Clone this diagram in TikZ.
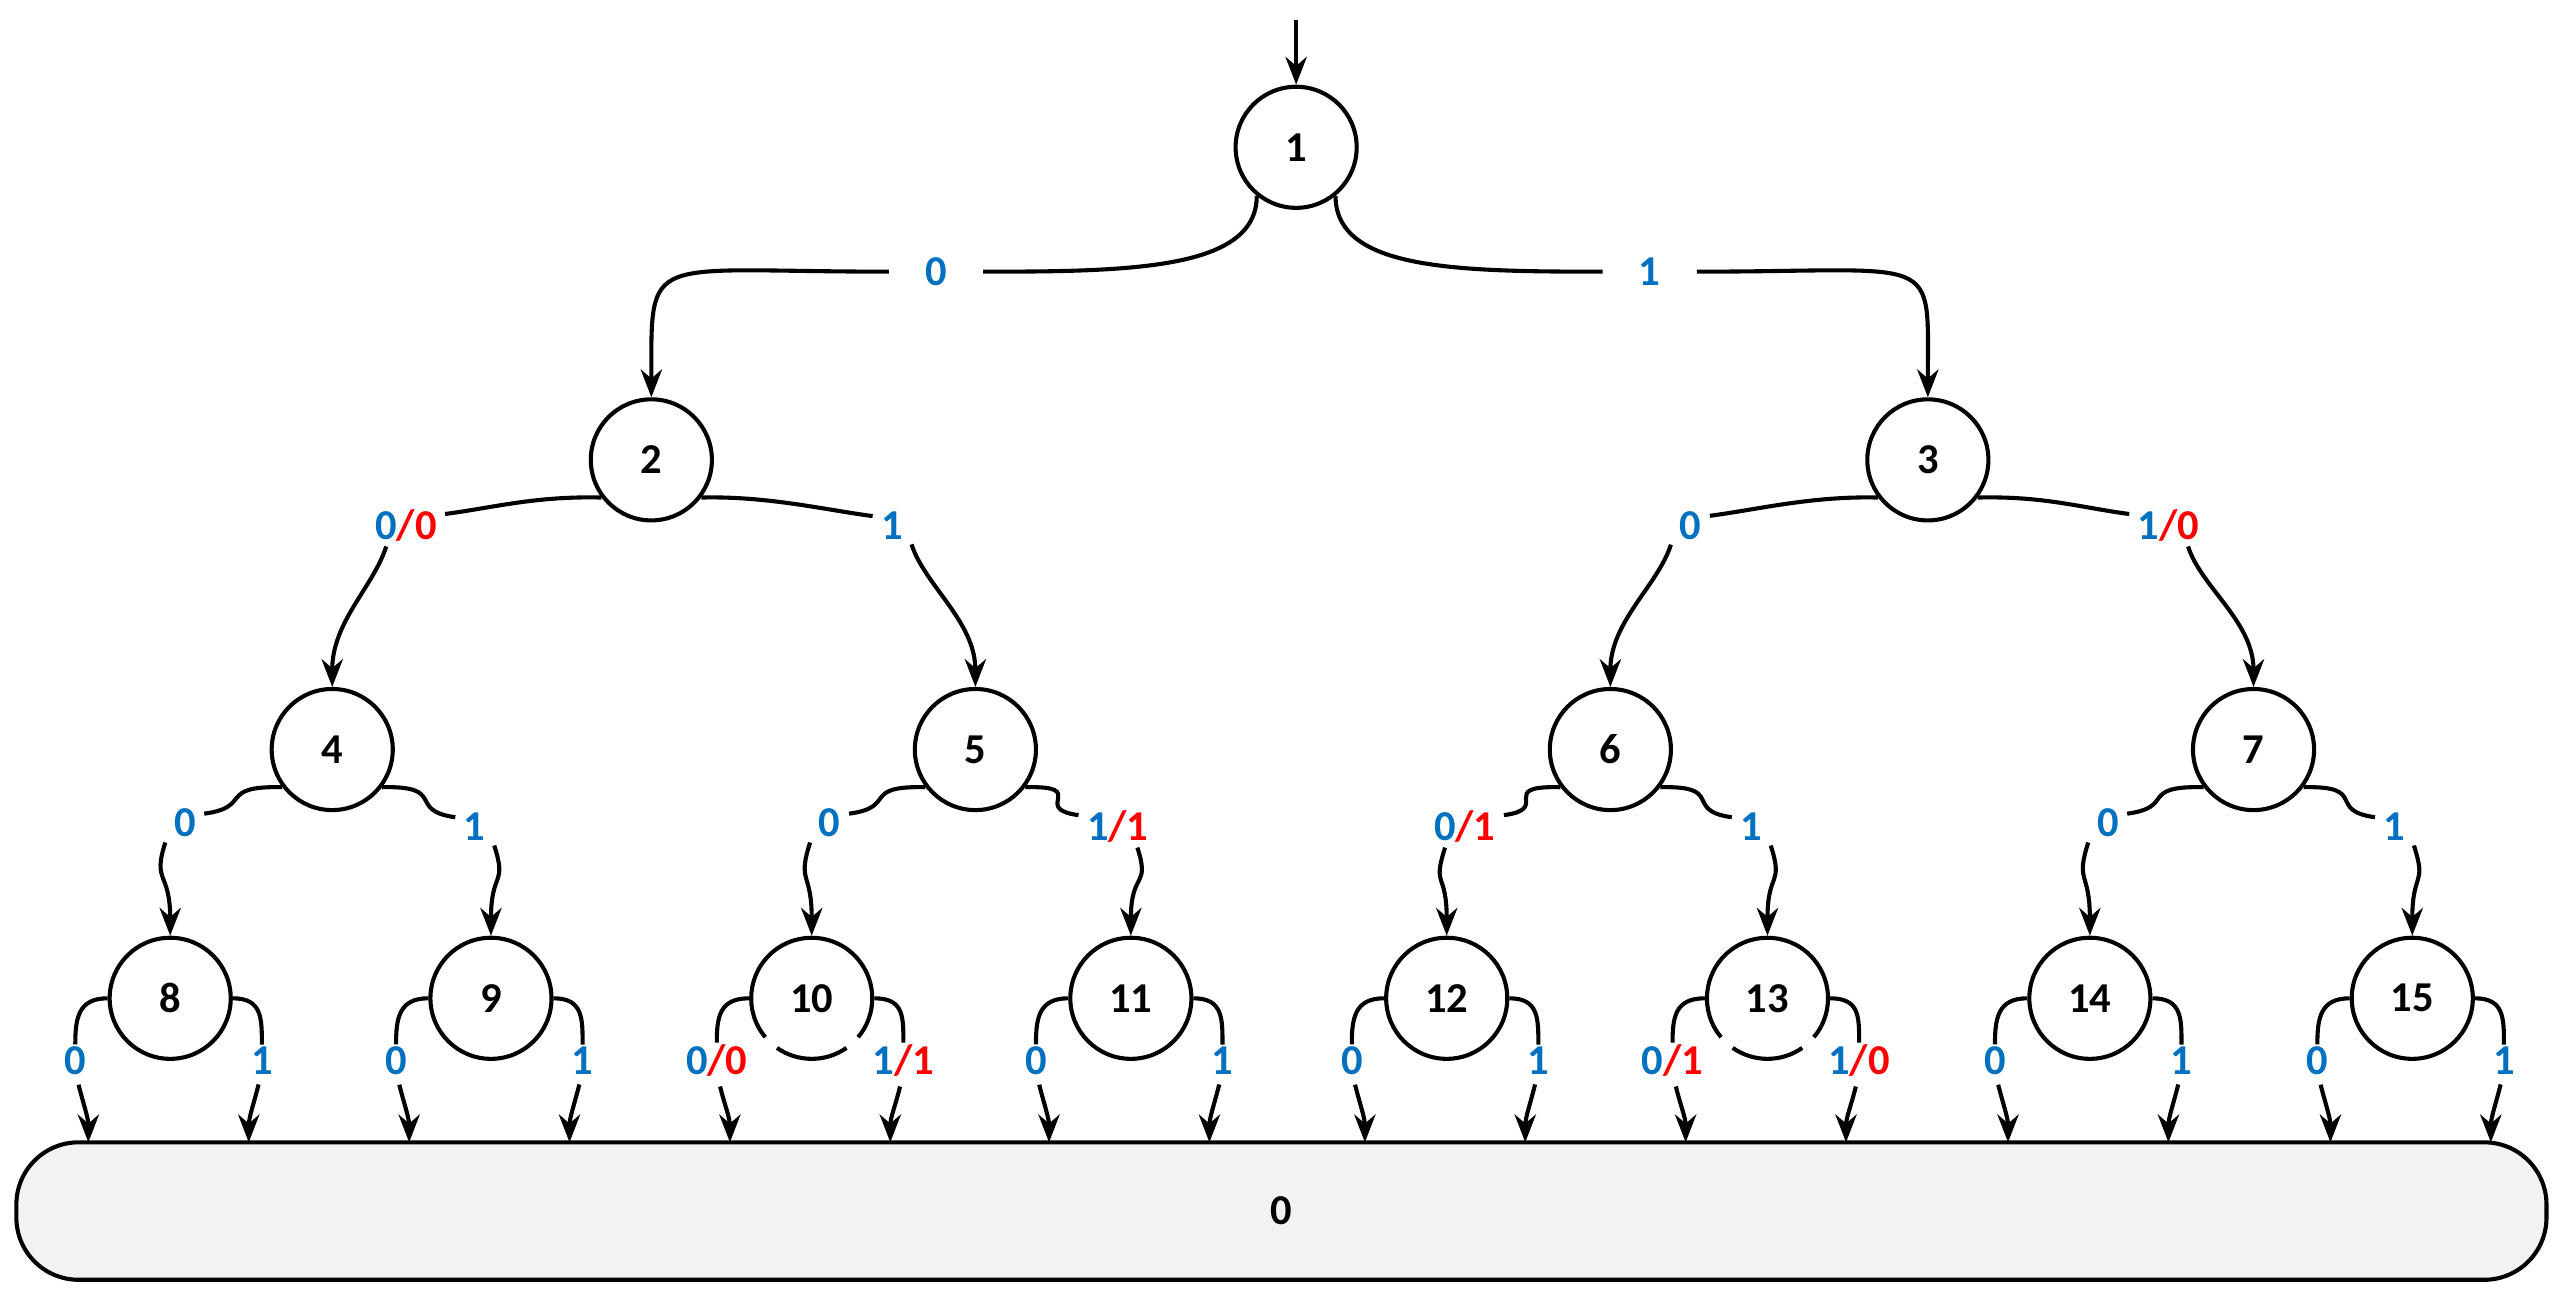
\documentclass[tikz,border=0pt]{standalone}
\usepackage{fontspec}
\setmainfont{Carlito}
\usetikzlibrary{arrows.meta,calc}
\definecolor{bl}{HTML}{0070C0}
\definecolor{rd}{HTML}{FF0000}
\begin{document}
\begin{tikzpicture}[x=1pt,y=-1pt,
  st/.style={circle,draw,line width=2.5pt,minimum size=74pt,inner sep=0pt,font=\fontsize{26}{28}\selectfont\bfseries},
  lab/.style={inner sep=5pt,font=\fontsize{26}{28}\selectfont\bfseries,text=bl},
  e/.style={line width=2.5pt},
  a/.style={e,-{Stealth[length=17pt,width=13pt]}}]
\useasboundingbox (0,0) rectangle (1560,795);
\newcommand\bb[1]{\textcolor{bl}{#1}}
\newcommand\rr[1]{\textcolor{rd}{#1}}
% nodes
\node[st] (n1) at (792,90) {1};
\node[st] (n2) at (398,281) {2};
\node[st] (n3) at (1178,281) {3};
\node[st] (n4) at (203,458) {4};
\node[st] (n5) at (596,458) {5};
\node[st] (n6) at (984,458) {6};
\node[st] (n7) at (1377,458) {7};
\node[st] (n8) at (104,610) {8};
\node[st] (n9) at (300,610) {9};
\node[st,draw=none] (n10) at (496,610) {10};
\node[st] (n11) at (691,610) {11};
\node[st] (n12) at (884,610) {12};
\node[st,draw=none] (n13) at (1080,610) {13};
\node[st] (n14) at (1277,610) {14};
\node[st] (n15) at (1474,610) {15};
\foreach \n in {n10,n13}{
  \draw[e] (\n) ++(55:37) arc(55:125:37);
  \draw[e] (\n) ++(140:37) arc(140:400:37);
}
\node[draw,line width=2.5pt,fill=gray!10,rounded corners=38pt,minimum width=1546pt,minimum height=84pt,font=\fontsize{26}{28}\selectfont\bfseries] (z) at (783,740) {0};
% top arrow
\coordinate (s) at (792,12);
\draw[a] (s) -- (n1.north);
% level 1
\node[lab,inner xsep=22pt] (l12) at (572,166) {0};
\node[lab,inner xsep=22pt] (l13) at (1008,166) {1};
\draw[e] (n1.231) .. controls +(0,45) and +(90,0) .. (l12.east);
\draw[a] (l12.west) .. controls +(-150,0) and +(0,-90) .. (n2.north);
\draw[e] (n1.-51) .. controls +(0,45) and +(-90,0) .. (l13.west);
\draw[a] (l13.east) .. controls +(150,0) and +(0,-90) .. (n3.north);
% level 2/3 labels
\node[lab] (l24) at (248,321) {\bb{0}\rr{/0}};
\node[lab] (l25) at (545,321) {1};
\node[lab] (l36) at (1033,321) {0};
\node[lab] (l37) at (1325,321) {\bb{1}\rr{/0}};
\node[lab] (l48) at (113,503) {0};
\node[lab] (l49) at (290,505) {1};
\node[lab] (l510) at (507,503) {0};
\node[lab] (l511) at (683,505) {\bb{1}\rr{/1}};
\node[lab] (l612) at (895,505) {\bb{0}\rr{/1}};
\node[lab] (l613) at (1070,505) {1};
\node[lab] (l714) at (1288,503) {0};
\node[lab] (l715) at (1463,505) {1};
\newcommand\edgeL[3]{%
  \draw[e] (#1.217) .. controls +(-40,-1) and +(30,-4) .. ($(#2.north east)+(0,8)$);
  \draw[a] ($(#2.south)+(-12,-2)$) .. controls +(-8,25) and +(0,-40) .. (#3.north);}
\newcommand\edgeR[3]{%
  \draw[e] (#1.-37) .. controls +(40,-1) and +(-30,-4) .. ($(#2.north west)+(0,8)$);
  \draw[a] ($(#2.south)+(12,-2)$) .. controls +(8,25) and +(0,-40) .. (#3.north);}
\edgeL{n2}{l24}{n4}\edgeR{n2}{l25}{n5}
\edgeL{n3}{l36}{n6}\edgeR{n3}{l37}{n7}
\edgeL{n4}{l48}{n8}\edgeR{n4}{l49}{n9}
\edgeL{n5}{l510}{n10}\edgeR{n5}{l511}{n11}
\edgeL{n6}{l612}{n12}\edgeR{n6}{l613}{n13}
\edgeL{n7}{l714}{n14}\edgeR{n7}{l715}{n15}
% level 4
\newcommand\leaf[3]{%
  \node[lab,inner sep=3pt] (#1L) at ($(#1)+(-58,38)$) {#2};
  \node[lab,inner sep=3pt] (#1R) at ($(#1)+(56,38)$) {#3};
  \coordinate (#1tl) at ($(#1)+(-50,88)$);
  \coordinate (#1tr) at ($(#1)+(48,88)$);
  \draw[e] (#1.west) .. controls +(-18,0) and +(0,-16) .. ($(#1L.north)+(0,2)$);
  \draw[e] (#1.east) .. controls +(18,0) and +(0,-16) .. ($(#1R.north)+(0,2)$);
  \draw[a] ($(#1L.south)+(2,3)$) .. controls +(3,12) and +(0,-15) .. (#1tl);
  \draw[a] ($(#1R.south)+(-2,3)$) .. controls +(-3,12) and +(0,-15) .. (#1tr);}
\leaf{n8}{0}{1}
\leaf{n9}{0}{1}
\leaf{n10}{\bb{0}\rr{/0}}{\bb{1}\rr{/1}}
\leaf{n11}{0}{1}
\leaf{n12}{0}{1}
\leaf{n13}{\bb{0}\rr{/1}}{\bb{1}\rr{/0}}
\leaf{n14}{0}{1}
\leaf{n15}{0}{1}
\end{tikzpicture}
\end{document}
